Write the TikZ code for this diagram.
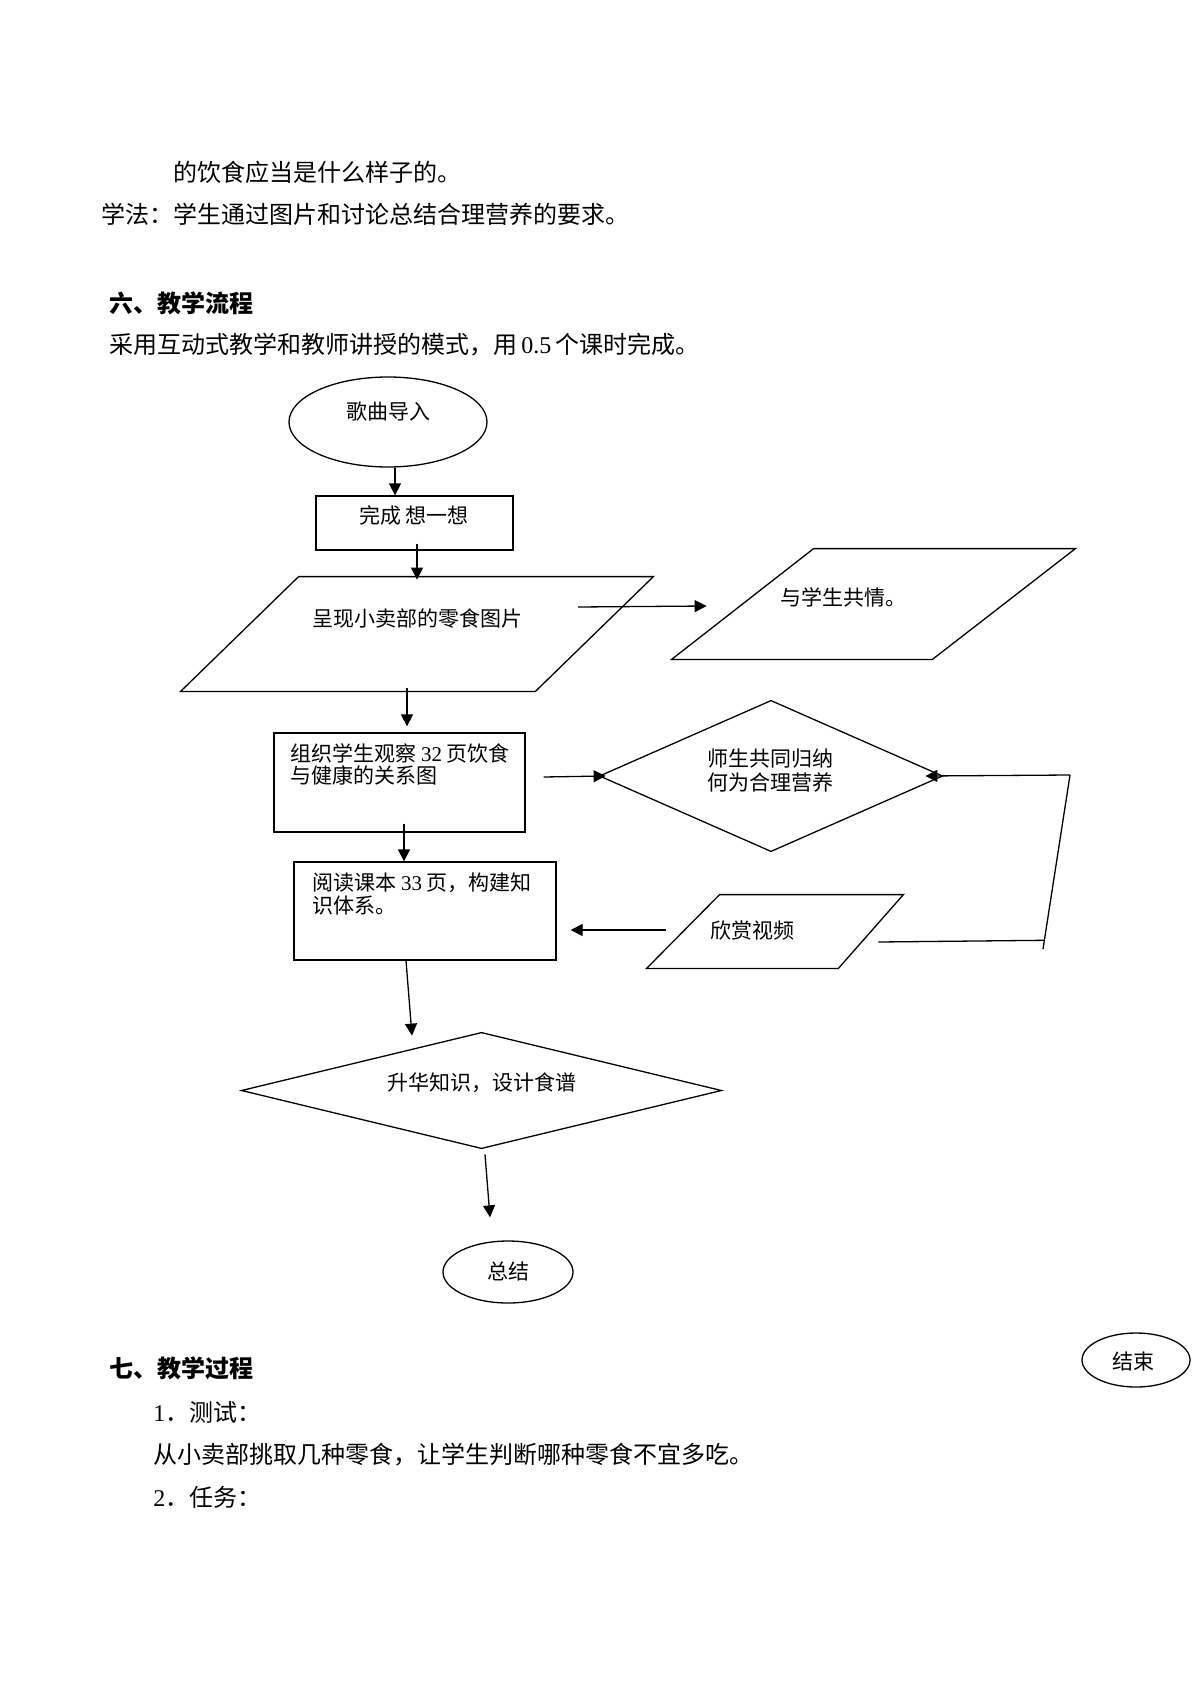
\documentclass[tikz,border=0pt]{standalone}
\usepackage{fontspec}
\setmainfont{Noto Sans CJK SC}
\newfontfamily\lat{Liberation Serif}
\usetikzlibrary{arrows.meta,shapes.geometric,calc}
\tikzset{
 arr/.style={draw, line width=0.65pt, -{Triangle[length=6pt,width=6pt]}},
 ln/.style={draw, line width=0.65pt},
 frame/.style={draw, line width=0.65pt, inner sep=0pt},
 ghost/.style={inner sep=0pt},
 body/.style={anchor=west, inner sep=0pt, font=\fontsize{12}{14}\selectfont},
 head/.style={anchor=west, inner sep=0pt, font=\fontsize{12}{14}\selectfont\bfseries},
 lbl/.style={inner sep=0pt, font=\fontsize{10.5}{12}\selectfont},
}
\begin{document}
\begin{tikzpicture}[x=0.5pt,y=-0.5pt]
\useasboundingbox (0,0) rectangle (1191,1684);
\fill[white] (0,0) rectangle (1191,1684);

% body text
\node[body] (t1) at (173,172) {的饮食应当是什么样子的。};
\node[body] (t2) at (101,214) {学法：学生通过图片和讨论总结合理营养的要求。};
\node[head] (t3) at (109,303) {六、教学流程};
\node[body] (t4) at (109,345) {采用互动式教学和教师讲授的模式，用\hspace{2pt}{\lat 0.5}\hspace{2pt}个课时完成。};
\node[head] (t5) at (109,1368) {七、教学过程};
\node[body] (t6) at (153,1412) {{\lat 1}．测试：};
\node[body] (t7) at (153,1455) {从小卖部挑取几种零食，让学生判断哪种零食不宜多吃。};
\node[body] (t8) at (153,1497) {{\lat 2}．任务：};

% shapes
\node[frame, ellipse, minimum width=99pt, minimum height=45pt] (song) at (388,422) {};
\node[lbl] (songt) at (388,412) {歌曲导入};

\node[frame, minimum width=98.5pt, minimum height=27pt] (b1) at (414.5,523) {};
\node[lbl] (b1t) at (414,515) {完成 想一想};

\node[ghost, minimum width=236pt, minimum height=57pt] (p1) at (417,634) {};
\draw[ln] ([xshift=59pt]p1.north west) -- (p1.north east) -- ([xshift=-59pt]p1.south east) -- (p1.south west) -- cycle;
\node[lbl] (p1t) at (417,619) {呈现小卖部的零食图片};

\node[ghost, minimum width=201.5pt, minimum height=55pt] (p2) at (873.5,604) {};
\draw[ln] ([xshift=71pt]p2.north west) -- (p2.north east) -- ([xshift=-71.5pt]p2.south east) -- (p2.south west) -- cycle;
\node[lbl, anchor=west] (p2t) at (780,597) {与学生共情。};

\node[frame, minimum width=125.5pt, minimum height=49.5pt] (b2) at (399.5,782.5) {};
\node[lbl, anchor=west, align=left, font=\fontsize{10.5}{11}\selectfont] (b2t) at (290,764) {组织学生观察 {\lat 32} 页饮食\\与健康的关系图};

\node[ghost, minimum width=171pt, minimum height=75pt] (d1) at (771,776) {};
\draw[ln] (d1.north) -- (d1.east) -- (d1.south) -- (d1.west) -- cycle;
\node[lbl, align=center] (d1t) at (770,771) {师生共同归纳\\何为合理营养};

\node[frame, minimum width=131pt, minimum height=49pt] (b3) at (425,911) {};
\node[lbl, anchor=west, align=left, font=\fontsize{10.5}{11.5}\selectfont] (b3t) at (312,894) {阅读课本 {\lat 33} 页，构建知\\识体系。};

\node[ghost, minimum width=128pt, minimum height=36.5pt] (p3) at (775,931.5) {};
\draw[ln] ([xshift=36.5pt]p3.north west) -- (p3.north east) -- ([xshift=-32.5pt]p3.south east) -- (p3.south west) -- cycle;
\node[lbl, anchor=west] (p3t) at (710,930) {欣赏视频};

\node[ghost, minimum width=239.5pt, minimum height=57.5pt] (d2) at (481.5,1090.5) {};
\draw[ln] (d2.north) -- (d2.east) -- (d2.south) -- (d2.west) -- cycle;
\node[lbl] (d2t) at (482,1083) {升华知识，设计食谱};

\node[frame, ellipse, minimum width=65pt, minimum height=31pt] (sum) at (508,1272) {};
\node[lbl] (sumt) at (508,1271) {总结};

\node[frame, ellipse, minimum width=54pt, minimum height=27pt] (fin) at (1136,1360) {};
\node[lbl] (fint) at (1133,1361) {结束};

% connectors
\draw[arr] ([xshift=3.5pt]song.south) -- ([xshift=-9.75pt]b1.north);
\draw[arr] ([xshift=1.25pt,yshift=3.5pt]b1.south) -- ([yshift=-1.5pt]p1.north);
\draw[arr] ([xshift=80.5pt,yshift=13.5pt]p1.center) -- ([xshift=17.5pt,yshift=-1pt]p2.west);
\draw[arr] ([xshift=-5pt,yshift=1.5pt]p1.south) -- ([xshift=3.75pt,yshift=3pt]b2.north);
\draw[arr] ([xshift=9pt,yshift=2.75pt]b2.east) -- ([xshift=3pt]d1.west);
\draw[arr] ([xshift=2.25pt,yshift=4.5pt]b2.south) -- ([xshift=-10.5pt]b3.north);
\coordinate (lb) at (1043,949);
\coordinate (lt) at (1070,775);
\draw[ln] (lb) -- (lt);
\draw[arr] (lt) -- ([xshift=-8.5pt]d1.east);
\draw[ln] ([xshift=-12.5pt,yshift=-5.25pt]p3.east) -- ($(lb)!0.05!(lt)$);
\draw[arr] ([xshift=9.5pt,yshift=0.75pt]p3.west) -- ([xshift=7pt,yshift=-9.5pt]b3.east);
\draw[arr] ([xshift=-9.5pt]b3.south) -- ([xshift=-34.75pt,yshift=-1.5pt]d2.north);
\draw[arr] ([xshift=1.75pt,yshift=-3pt]d2.south) -- ([xshift=-9pt,yshift=11.5pt]sum.north);
\end{tikzpicture}
\end{document}
